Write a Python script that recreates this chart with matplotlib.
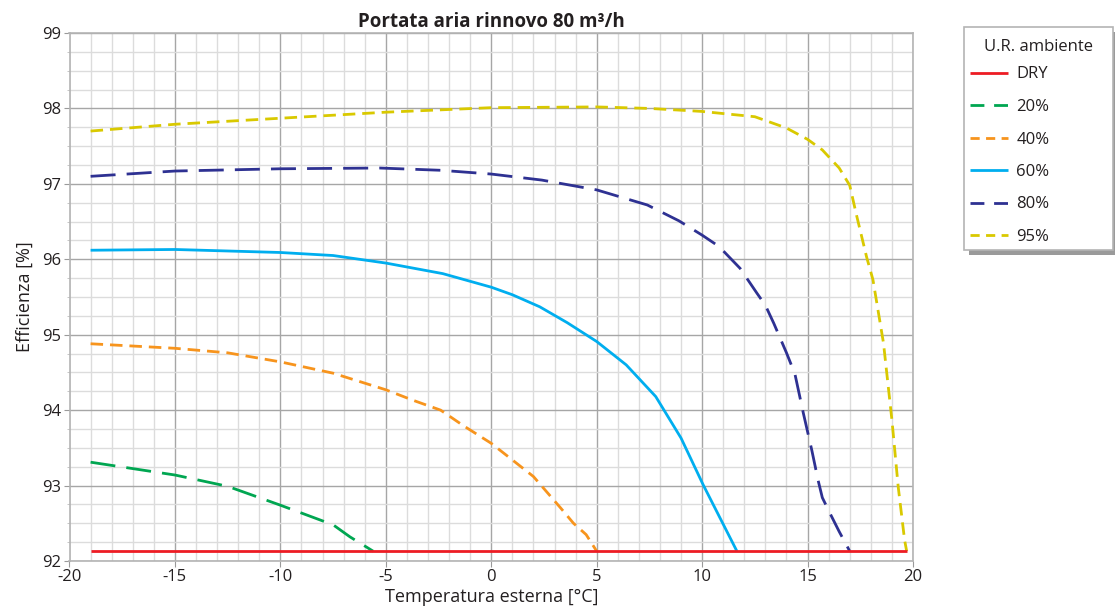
import matplotlib
matplotlib.use("Agg")
import matplotlib.pyplot as plt
from matplotlib.patches import Rectangle
from matplotlib.lines import Line2D
from matplotlib.ticker import MultipleLocator

plt.rcParams['font.family'] = ['Open Sans', 'DejaVu Sans']
plt.rcParams['axes.unicode_minus'] = False

# ---- data ----
dry_x = [-19.0, 19.7]
dry_y = [92.13, 92.13]

rh20_x = [-19.0, -15.0, -12.5, -10.0, -7.5, -6.7, -5.6]
rh20_y = [93.31, 93.14, 92.99, 92.74, 92.48, 92.32, 92.13]

rh40_x = [-19.0, -15.0, -12.5, -10.0, -7.5, -5.0, -3.7, -2.4, -1.3, 0.0, 2.0, 3.3, 3.9, 4.5, 5.0]
rh40_y = [94.88, 94.82, 94.76, 94.64, 94.49, 94.27, 94.13, 94.00, 93.79, 93.56, 93.12, 92.70, 92.50, 92.35, 92.13]

rh60_x = [-19.0, -15.0, -10.0, -7.5, -5.0, -2.3, 0.0, 1.0, 2.3, 3.6, 5.0, 6.4, 7.8, 9.0, 10.05, 11.65]
rh60_y = [96.12, 96.13, 96.09, 96.05, 95.95, 95.81, 95.63, 95.53, 95.37, 95.16, 94.91, 94.60, 94.18, 93.63, 93.01, 92.13]

rh80_x = [-19.0, -15.0, -10.0, -5.3, -2.4, 0.0, 2.4, 5.0, 7.4, 8.9, 10.0, 10.8, 11.8, 12.6, 13.0, 13.4,
          14.0, 14.4, 14.8, 15.2, 15.5, 15.7, 16.05, 16.5, 17.0]
rh80_y = [97.10, 97.17, 97.20, 97.21, 97.18, 97.13, 97.05, 96.92, 96.72, 96.51, 96.32, 96.17, 95.88, 95.55, 95.39, 95.15,
          94.76, 94.48, 93.96, 93.47, 93.07, 92.84, 92.64, 92.39, 92.13]

rh95_x = [-19.0, -15.0, -10.0, -5.0, 0.0, 5.0, 7.5, 9.4, 10.0, 12.5, 14.0, 15.0, 15.7, 16.5, 17.0, 17.3,
          17.8, 18.1, 18.6, 19.0, 19.3, 19.6, 19.7]
rh95_y = [97.70, 97.79, 97.87, 97.95, 98.01, 98.02, 98.00, 97.97, 97.96, 97.89, 97.74, 97.59, 97.45, 97.21, 96.98, 96.61,
          96.03, 95.73, 94.89, 93.87, 92.98, 92.28, 92.13]

labels = ['DRY', '20%', '40%', '60%', '80%', '95%']
legend_title = 'U.R. ambiente'
colors = ['#ed1c24', '#00a651', '#f7941d', '#00aeef', '#2e3192', '#d9c900']
series = [(dry_x, dry_y), (rh20_x, rh20_y), (rh40_x, rh40_y), (rh60_x, rh60_y), (rh80_x, rh80_y), (rh95_x, rh95_y)]
dashes = [None, (9, 4), (4.5, 2.5), None, (9, 4), (4.5, 2.5)]
legend_dashes = [None, (5, 3.5), (3.3, 2.3), None, (5, 3.5), (3.3, 2.3)]

# ---- figure ----
W, H = 1115, 613
fig = plt.figure(figsize=(W / 100, H / 100), dpi=100)
ax = fig.add_axes([69.5 / W, (H - 561) / H, (913 - 69.5) / W, (561 - 33) / H])

ax.set_xlim(-20, 20)
ax.set_ylim(92, 99)
ax.xaxis.set_major_locator(MultipleLocator(5))
ax.xaxis.set_minor_locator(MultipleLocator(1))
ax.yaxis.set_major_locator(MultipleLocator(1))
ax.yaxis.set_minor_locator(MultipleLocator(0.25))

ax.grid(which='minor', color='#dcdcdc', linewidth=1.0)
ax.grid(which='major', color='#a6a6a6', linewidth=1.0)
ax.set_axisbelow(True)
for s in ax.spines.values():
    s.set_color('#b4b4b4')
    s.set_linewidth(1.2)

ax.tick_params(which='major', direction='out', length=4, color='#9a9a9a', labelsize=12, labelcolor='#231f20', pad=2)
ax.tick_params(which='minor', direction='out', length=2.5, color='#bdbdbd')
ax.tick_params(axis='x', which='minor', length=0)

lines = []
for (x, y), c, d, lab in zip(series, colors, dashes, labels):
    if d is None:
        ln, = ax.plot(x, y, color=c, lw=2.0, label=lab, solid_capstyle='butt')
    else:
        ln, = ax.plot(x, y, color=c, lw=2.0, label=lab, dashes=d, dash_capstyle='butt')
    lines.append(ln)
lines[0].set_zorder(5)

ax.set_title('Portata aria rinnovo 80 m³/h', fontsize=13.5, fontweight='bold', color='#231f20', pad=4)
ax.set_xlabel('Temperatura esterna [°C]', fontsize=13, color='#231f20', labelpad=2)
ax.set_ylabel('Efficienza [%]', fontsize=13, color='#231f20', labelpad=6)

# legend: frame + shadow + title drawn in figure pixels, entries via legend
bx0, by0, bx1, by1 = 964, 27, 1113, 250   # pixel box (top-left origin)
shadow = Rectangle(((bx0 + 5) / W, 1 - (by1 + 5) / H), (bx1 - bx0) / W, (by1 - by0) / H,
                   transform=fig.transFigure, facecolor='#9a9a9a', edgecolor='none', zorder=1)
frame = Rectangle((bx0 / W, 1 - by1 / H), (bx1 - bx0) / W, (by1 - by0) / H,
                  transform=fig.transFigure, facecolor='white', edgecolor='#b4b4b4', linewidth=1.2, zorder=2)
fig.add_artist(shadow)
fig.add_artist(frame)
fig.text((bx0 + bx1) / 2 / W, 1 - 47 / H, legend_title, ha='center', va='center',
         fontsize=12, color='#231f20', zorder=3)

handles = []
for c, d in zip(colors, legend_dashes):
    if d is None:
        handles.append(Line2D([], [], color=c, lw=2.0, solid_capstyle='butt'))
    else:
        handles.append(Line2D([], [], color=c, lw=2.0, dashes=d, dash_capstyle='butt'))

leg = fig.legend(handles=handles, labels=labels,
                 loc='upper left', bbox_to_anchor=(970 / W, 1 - 66.5 / H), borderaxespad=0,
                 frameon=False, fontsize=12,
                 handlelength=2.3, handletextpad=0.48, labelspacing=0.99, borderpad=0)
leg.set_zorder(4)
for t in leg.get_texts():
    t.set_color('#231f20')

fig.savefig('out.png', dpi=100)
